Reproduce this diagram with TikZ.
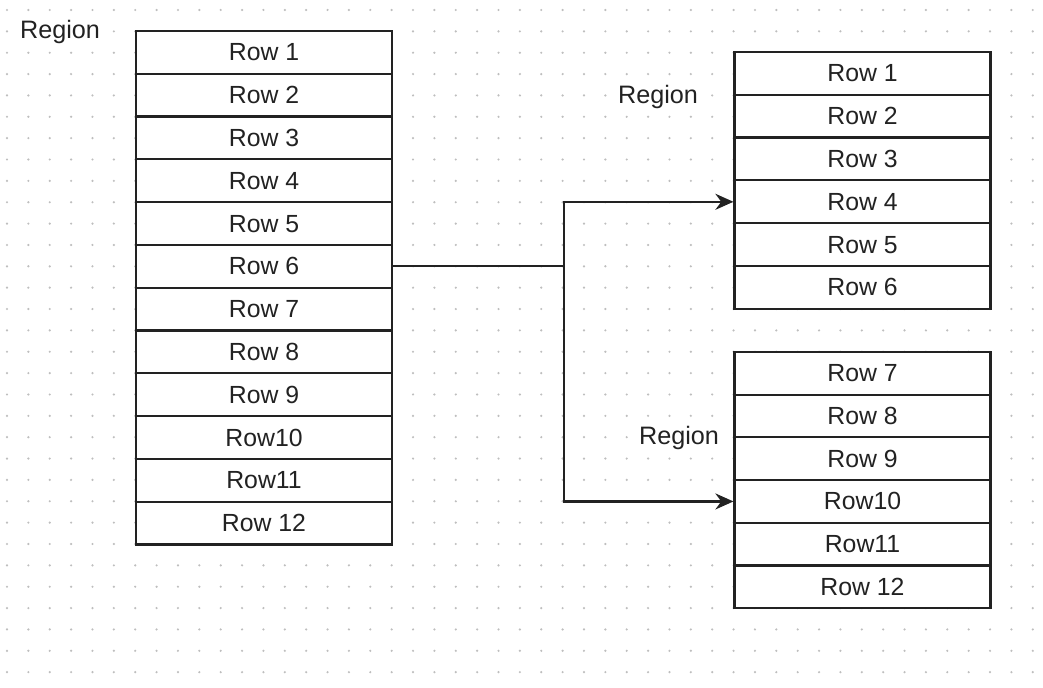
\documentclass[tikz,border=0pt]{standalone}
\usepackage{fontspec}
\setmainfont{Liberation Sans}
\usetikzlibrary{arrows.meta}
\definecolor{griddot}{RGB}{190,190,190}
\definecolor{ink}{RGB}{34,34,34}
\tikzset{
  rowbox/.style={draw=ink, line width=1.1pt, fill=white, minimum width=128pt, minimum height=21.4pt, inner sep=0pt, font=\fontsize{12.4}{14}\selectfont, text=ink},
  regionlabel/.style={fill=white, inner sep=1pt, font=\fontsize{12.6}{14}\selectfont, text=ink},
  link/.style={draw=ink, line width=1.1pt, -{Stealth[length=9pt,width=8pt]}}
}
\begin{document}
\begin{tikzpicture}[x=0.5pt,y=-0.5pt]
        \fill[white](0,0)rectangle(1043,688);
        \useasboundingbox(0,0)rectangle(1043,688);
        % dotted grid
        \foreach \i in {0,...,48}
            \foreach \j in {0,...,31}
                \fill[griddot]({7+21.37*\i},{10+21.36*\j})circle(1.2);
        % left table
        \foreach \t [count=\k] in {Row 1,Row 2,Row 3,Row 4,Row 5,Row 6,Row 7,Row 8,Row 9,Row10,Row11,Row 12}
            \node[rowbox](L\k)at(264,{31+42.8*(\k-0.5)}){\t};
        % right tables
        \foreach \t [count=\k] in {Row 1,Row 2,Row 3,Row 4,Row 5,Row 6}
            \node[rowbox](R\k)at(862.5,{52+42.8*(\k-0.5)}){\t};
        \foreach \t [count=\k from 7] in {Row 7,Row 8,Row 9,Row10,Row11,Row 12}
            \node[rowbox](R\k)at(862.5,{352+42.7*(\k-6.5)}){\t};
        \node[regionlabel](regL)at(60,32){Region};
        \node[regionlabel](regT)at(658,97){Region};
        \node[regionlabel](regB)at(679,438){Region};
        % split connector
        \coordinate(split)at([xshift=85.5pt]L6.east);
        \draw[link](L6.east)--(split)|-(R4.west);
        \draw[link](split)|-(R10.west);
    \end{tikzpicture}
\end{document}
